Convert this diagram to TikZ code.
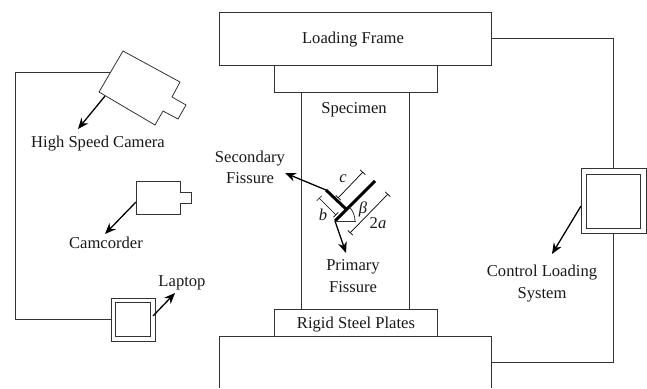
\documentclass[tikz,border=0pt]{standalone}
\usepackage{fontspec}
\setmainfont{Liberation Serif}
\usetikzlibrary{arrows.meta}
\tikzset{
 thin line/.style={draw=black!80,line width=0.8pt},
 box/.style={thin line,fill=white},
 pointer/.style={draw=black,line width=1.3pt,-{Stealth[length=11pt,width=9pt]}},
 dim/.style={draw=black,line width=0.7pt,{Bar[width=7pt]}-{Bar[width=7pt]}},
 label/.style={inner sep=0pt,font=\fontsize{16.6}{21.5}\selectfont,align=center,text=black!90},
}
\begin{document}
\begin{tikzpicture}[x=1pt,y=-1pt]
\useasboundingbox (0,0) rectangle (647,388);
% wires
\coordinate (w1) at (15,72);\coordinate (w2) at (15,319);
\coordinate (w3) at (613,38);\coordinate (w4) at (613,362.5);
\draw[thin line] (110,72) -- (w1) -- (w2) -- (111,319);
\draw[thin line] (491,38) -- (w3) -- (613,168);
\draw[thin line] (613,233) -- (w4) -- (491,362.5);
% frame
\draw[box] (219.5,12) rectangle (491,65.5);
\draw[box] (274,65.5) rectangle (437,92.5);
\draw[box] (301,92.5) rectangle (409.5,309);
\draw[box] (274,309) rectangle (437,336);
\draw[box] (219.5,388) -- (219.5,336) -- (491,336) -- (491,388);
\node[label] (lf) at (353,40) {Loading Frame};
\node[label] (sp) at (354,109.5) {Specimen};
\node[label] (rs) at (356,324.5) {Rigid Steel Plates};
% camera
\draw[box] (123,51) -- (180,82) -- (172,97) -- (186,105) -- (178,119) -- (163,111) -- (155,125) -- (99,92) -- cycle;
\coordinate (camfoot) at (105,96);
\node[label] (hsc) at (98,144) {High Speed Camera};
\draw[pointer] (camfoot) -- (78,129);
% camcorder
\draw[box] (136,181) -- (180,181) -- (180,192) -- (191,192) -- (191,203) -- (180,203) -- (180,214) -- (136,214) -- cycle;
\coordinate (ccfoot) at (136,202);
\node[label] (cc) at (106,243) {Camcorder};
\draw[pointer] (ccfoot) -- (105,234);
% laptop
\draw[box] (111,298) rectangle (155,341);
\draw[box] (115.5,302) rectangle (150.5,336);
\coordinate (ltfoot) at (153,316);
\node[label] (lt) at (182,283) {Laptop};
\draw[pointer] (ltfoot) -- (175,293);
% control
\draw[box] (581,168) rectangle (646,233);
\draw[box] (586,174) rectangle (640,228);
\coordinate (clfoot) at (581,206);
\node[label] (cl) at (542,283.5) {Control Loading\\System};
\draw[pointer] (clfoot) -- (552,254);
% fissures
\coordinate (pa) at (335,221);\coordinate (pb) at (375,181);
\coordinate (sa) at (346,209);\coordinate (sb) at (326,190);
\draw[draw=black,line width=3pt] (pa) -- (pb);
\draw[draw=black,line width=3pt] (sa) -- (sb);
\draw[thin line] (pa) -- (356,221);
\draw[thin line] (355,221) arc (0:-45:20);
\draw[pointer] (sb) -- (285,173);
\draw[pointer] (pa) -- (346,253);
\draw[dim] (338,198) -- (363,172);
\draw[dim] (319,198) -- (336,215);
\draw[dim] (350,233) -- (388,194);
\node[label] (c) at (343,179) {\textit{c}};
\node[label] (b) at (323,215) {\textit{b}};
\node[label] (beta) at (363,209) {\textit{β}};
\node[label] (twoa) at (378,223) {2\textit{a}};
\node[label] (sf) at (250,167.5) {Secondary\\Fissure};
\node[label] (pf) at (353,276) {Primary\\Fissure};
\end{tikzpicture}
\end{document}
